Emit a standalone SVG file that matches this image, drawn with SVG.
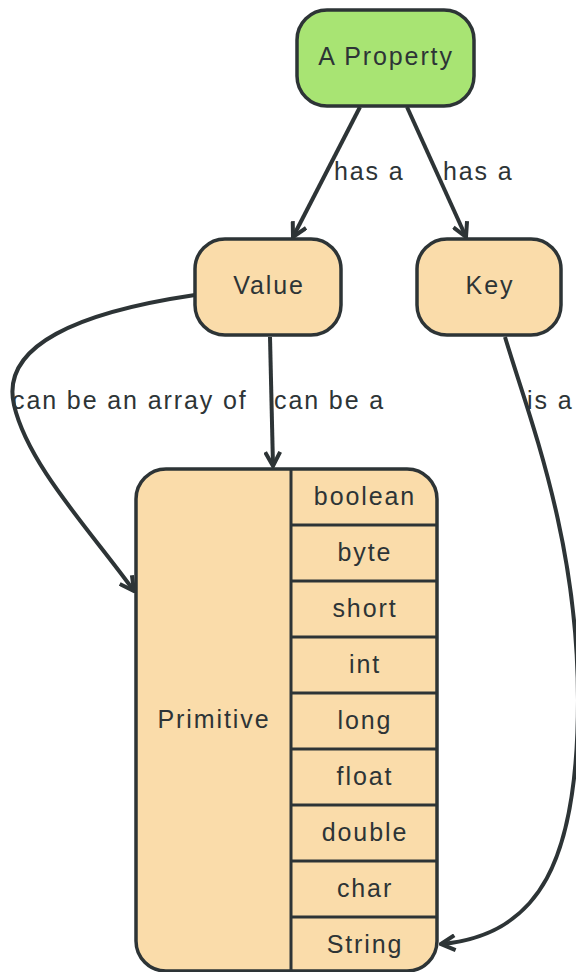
<svg xmlns="http://www.w3.org/2000/svg" width="576" height="972" viewBox="0 0 576 972">
<style>
text{font-family:"Liberation Sans",Arial,sans-serif;font-size:25px;fill:#2d3436;letter-spacing:1.9px}
.c{text-anchor:middle}
.n{stroke:#2d3436;stroke-width:3.5}
.p{fill:#fadcaa}
.e{fill:none;stroke:#2d3436;stroke-width:4;marker-end:url(#arr)}
.l{fill:none;stroke:#2d3436;stroke-width:3}
</style>
<defs>
<marker id="arr" viewBox="-16 -9 18 18" refX="0" refY="0" markerWidth="18" markerHeight="18" markerUnits="userSpaceOnUse" orient="auto">
<path d="M-14,-7.5 L0,0 L-14,7.5" fill="none" stroke="#2d3436" stroke-width="4"/>
</marker>
</defs>
<g id="connectors">
<path class="e" d="M360,107 L293,237"/>
<path class="e" d="M407,107 L466,237"/>
<path class="e" d="M270,337 L273,466"/>
<path class="e" d="M195,295 C 80,312 0,345 14,405 C 28,465 90,530 134,591"/>
<path class="e" d="M505,337 C 530,420 578,540 578,700 C 578,860 540,935 441,944"/>
<text x="334" y="180">has a</text>
<text x="443" y="180">has a</text>
<text x="274" y="409">can be a</text>
<text x="12" y="409">can be an array of</text>
<text x="527" y="409">is a</text>
</g>
<g id="property">
<rect class="n" x="297" y="10" width="177" height="96" rx="30" fill="#a8e473"/>
<text class="c" x="386" y="65">A Property</text>
</g>
<g id="value">
<rect class="n p" x="195" y="239" width="146" height="96" rx="30"/>
<text class="c" x="269" y="294">Value</text>
</g>
<g id="key">
<rect class="n p" x="417" y="239" width="144" height="96" rx="30"/>
<text class="c" x="490" y="294">Key</text>
</g>
<g id="primitive">
<rect class="n p" x="136" y="469" width="301" height="502" rx="30"/>
<path class="l" d="M291,469 V971 M291,525 H437 M291,581 H437 M291,637 H437 M291,693 H437 M291,749 H437 M291,805 H437 M291,861 H437 M291,917 H437"/>
<text class="c" x="214" y="728">Primitive</text>
<text class="c" x="365" y="505">boolean</text>
<text class="c" x="365" y="561">byte</text>
<text class="c" x="365" y="617">short</text>
<text class="c" x="365" y="673">int</text>
<text class="c" x="365" y="729">long</text>
<text class="c" x="365" y="785">float</text>
<text class="c" x="365" y="841">double</text>
<text class="c" x="365" y="897">char</text>
<text class="c" x="365" y="953">String</text>
</g>
</svg>
